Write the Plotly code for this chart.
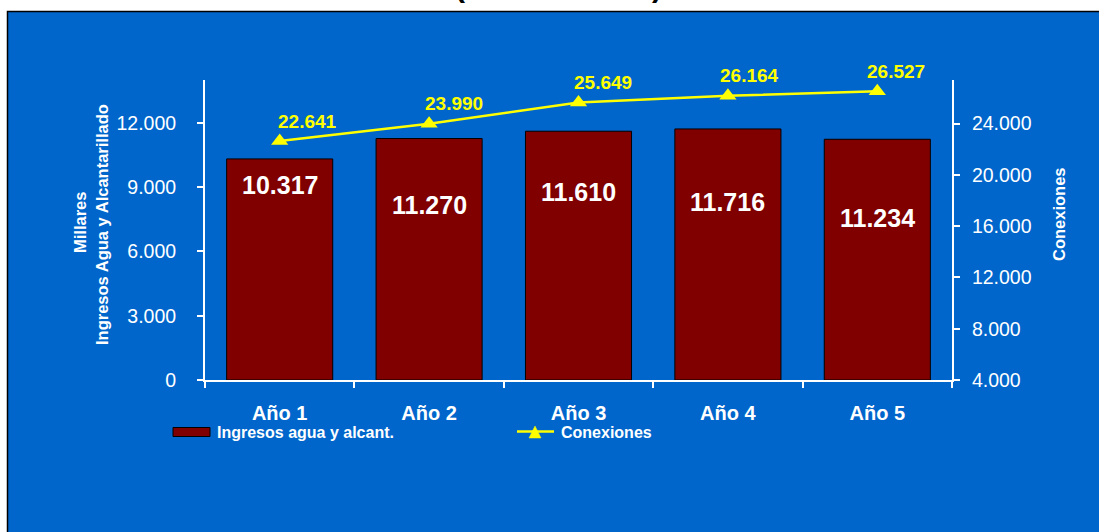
import plotly.graph_objects as go

# --- data -------------------------------------------------------------
years = ["Año 1", "Año 2", "Año 3", "Año 4", "Año 5"]
ingresos = [10317, 11270, 11610, 11716, 11234]      # millares
conexiones = [22641, 23990, 25649, 26164, 26527]

# label placement (pixels) relative to each mark
bar_label_drop = [26, 66, 61, 73, 79]
line_label_dx = [28, 25, 24, 22, 19]
line_label_dy = 20

BLUE = "#0066CC"
MAROON = "#800000"
YELLOW = "#FFFF00"
FONT = "Liberation Sans, Arial, sans-serif"

W, H = 1099, 532
L, R, T, B = 205, 147, 80, 152
PW, PH = W - L - R, H - T - B


def px(x):
    return (x - L) / PW


def py(y):
    return (H - B - y) / PH


def dots(v):
    return f"{v:,}".replace(",", ".")


fig = go.Figure()

fig.add_trace(go.Bar(
    x=years, y=ingresos, name="Ingresos agua y alcant.",
    marker=dict(color=MAROON, line=dict(color="black", width=1)),
    width=0.71, yaxis="y", showlegend=False,
))

fig.add_trace(go.Scatter(
    x=years, y=conexiones, name="Conexiones", mode="lines+markers",
    line=dict(color=YELLOW, width=2.5),
    marker=dict(symbol="triangle-up", size=15, color=YELLOW),
    yaxis="y2", showlegend=False, cliponaxis=False,
))

annotations = []
for yr, v, d in zip(years, ingresos, bar_label_drop):
    annotations.append(dict(
        x=yr, y=v, xref="x", yref="y", text=dots(v), showarrow=False,
        yanchor="middle", yshift=-d,
        font=dict(family=FONT, size=25, color="white", weight="bold"),
    ))
for yr, v, dx in zip(years, conexiones, line_label_dx):
    annotations.append(dict(
        x=yr, y=v, xref="x", yref="y2", text=dots(v), showarrow=False,
        yanchor="middle", xshift=dx, yshift=line_label_dy,
        font=dict(family=FONT, size=19, color=YELLOW, weight="bold"),
    ))

title_font = dict(family=FONT, size=16.5, color="white", weight="bold")
for xp, yp, txt in ((80, 223, "Millares"),
                    (102, 225, "Ingresos Agua y Alcantarillado"),
                    (1059, 214, "Conexiones")):
    annotations.append(dict(
        x=px(xp), y=py(yp), xref="paper", yref="paper", text=txt,
        textangle=-90, showarrow=False, xanchor="center", yanchor="middle",
        font=title_font,
    ))

# chart title, mostly above the visible canvas
paren_font = dict(family=FONT, size=30, color="black", weight="bold")
for xp, ch in ((460, "("), (657, ")")):
    annotations.append(dict(
        x=px(xp), y=py(5), xref="paper", yref="paper", text=ch,
        showarrow=False, xanchor="center", yanchor="bottom", font=paren_font,
    ))

# legend
legend_font = dict(family=FONT, size=16, color="white", weight="bold")
annotations += [
    dict(x=px(215), y=py(432), xref="paper", yref="paper",
         text="Ingresos agua y alcant.", showarrow=False,
         xanchor="left", yanchor="middle", font=legend_font),
    dict(x=px(559), y=py(432), xref="paper", yref="paper",
         text="Conexiones", showarrow=False,
         xanchor="left", yanchor="middle", font=legend_font),
]

shapes = [
    # blue panel behind the chart
    dict(type="rect", xref="paper", yref="paper", layer="below",
         x0=px(7.5), x1=px(1110), y0=py(11.5), y1=py(545),
         fillcolor=BLUE, line=dict(color="black", width=1.5)),
    # legend swatches
    dict(type="rect", xref="paper", yref="paper",
         x0=px(173), x1=px(210), y0=py(427.5), y1=py(436.5),
         fillcolor=MAROON, line=dict(color="black", width=1)),
    dict(type="line", xref="paper", yref="paper",
         x0=px(517), x1=px(554), y0=py(431.5), y1=py(431.5),
         line=dict(color=YELLOW, width=2.5)),
    dict(type="path", xref="paper", yref="paper",
         path=(f"M{px(529)},{py(438)} L{px(541)},{py(438)} "
               f"L{px(535)},{py(426)} Z"),
         fillcolor=YELLOW, line=dict(color=YELLOW, width=0.5)),
]

tick_font = dict(family=FONT, size=19.5, color="white")
common = dict(showgrid=False, zeroline=False, tickcolor="white", tickwidth=2,
              ticklen=6)
line_style = dict(linecolor="white", linewidth=2)

fig.update_layout(
    width=W, height=H,
    margin=dict(l=L, r=R, t=T, b=B, pad=0),
    paper_bgcolor="white", plot_bgcolor="rgba(0,0,0,0)",
    separators=",.",
    bargap=0.29,
    showlegend=False,
    xaxis=dict(
        type="category", showline=True, ticks="outside", tickson="boundaries",
        tickfont=dict(family=FONT, size=20, color="white", weight="bold"),
        ticklabelstandoff=14, **common, **line_style,
    ),
    xaxis2=dict(
        overlaying="x", anchor="y", side="bottom", range=[-0.5, 4.5],
        tickvals=[-0.5, 0.5, 1.5, 2.5, 3.5, 4.5], ticks="inside",
        showticklabels=False, showline=False, **common,
    ),
    yaxis=dict(
        range=[0, 14000], tickvals=[0, 3000, 6000, 9000, 12000],
        tickformat=",d", showline=True, ticks="outside", tickfont=tick_font,
        ticklabelstandoff=17, **common, **line_style,
    ),
    yaxis2=dict(
        overlaying="y", side="right", anchor="x", range=[4000, 27400],
        tickvals=[4000, 8000, 12000, 16000, 20000, 24000], tickformat=",d",
        showline=True, ticks="outside", tickfont=tick_font,
        ticklabelstandoff=8, **common, **line_style,
    ),
    yaxis3=dict(
        overlaying="y", side="left", anchor="x", range=[0, 14000],
        tickvals=[0, 3000, 6000, 9000, 12000], ticks="inside",
        showticklabels=False, showline=False, **common,
    ),
    yaxis4=dict(
        overlaying="y", side="right", anchor="x", range=[4000, 27400],
        tickvals=[4000, 8000, 12000, 16000, 20000, 24000], ticks="inside",
        showticklabels=False, showline=False, **common,
    ),
    annotations=annotations,
    shapes=shapes,
)

fig.write_html("out.html")
